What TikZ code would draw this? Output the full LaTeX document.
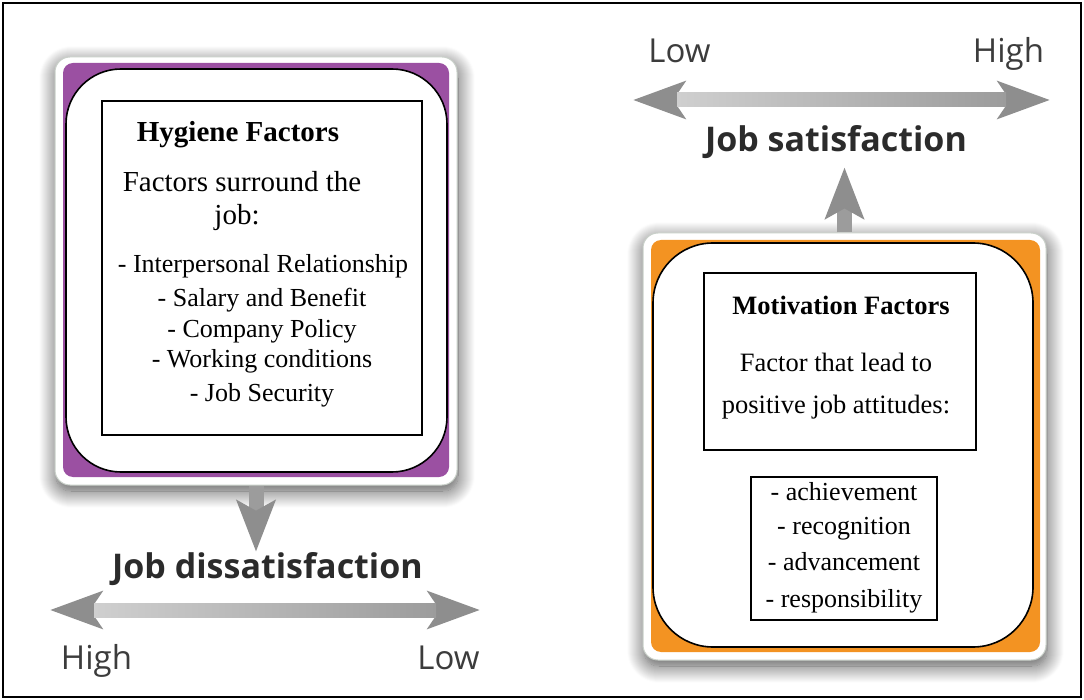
\documentclass[tikz,border=0pt]{standalone}
\usepackage{fontspec}
\setmainfont{Liberation Serif}
\newfontfamily\labelfont{Open Sans}
\usetikzlibrary{arrows.meta,shadows.blur,calc}

\definecolor{hygpurple}{HTML}{9B50A2}
\definecolor{motorange}{HTML}{F39322}
\definecolor{arrowgray}{HTML}{8E8E8E}
\definecolor{shaftlight}{HTML}{CFCFCF}
\definecolor{shaftdark}{HTML}{9C9C9C}
\definecolor{frameedge}{HTML}{C9D0C9}
\definecolor{labelink}{HTML}{2B2B2B}
\definecolor{endink}{HTML}{3C3C3C}

\tikzset{
  panelframe/.style={draw=frameedge, line width=1pt, fill=white, rounded corners=15pt,
    blur shadow={shadow blur steps=18, shadow xshift=1pt, shadow yshift=-6pt,
      shadow blur radius=17pt, shadow opacity=70}},
  colorband/.style={rounded corners=10pt, inner sep=0pt},
  roundbox/.style={draw=black, line width=1.6pt, fill=white, inner sep=0pt},
  textbox/.style={draw=black, line width=1.2pt, fill=white, inner sep=0pt},
  headtext/.style={anchor=base, inner sep=0pt, font=\fontsize{29}{34}\selectfont},
  bodytext/.style={anchor=base, inner sep=0pt, font=\fontsize{26}{30}\selectfont},
  scaletitle/.style={anchor=base, inner sep=0pt, font=\labelfont\bfseries\fontsize{34}{40}\selectfont, text=labelink},
  scaleend/.style={anchor=base, inner sep=0pt, font=\labelfont\fontsize{33}{38}\selectfont, text=endink},
  twoway/.style={line width=14pt, draw=arrowgray,
    arrows={Stealth[length=52pt, width=37pt, inset=12pt]-Stealth[length=52pt, width=37pt, inset=12pt]}},
  oneway/.style={line width=15pt, draw=shaftdark,
    arrows={-Stealth[length=51pt, width=38pt, inset=10pt, color=arrowgray]}},
}

\begin{document}
\begin{tikzpicture}[x=1pt, y=-1pt]
\useasboundingbox (0,0) rectangle (1084,700);
\node[draw=black, line width=1.4pt, minimum width=1078pt, minimum height=694pt, inner sep=0pt]
  (border) at (542,350) {};

% ---- hygiene panel ----
\node[panelframe, minimum width=402pt, minimum height=428pt, inner sep=0pt] (hygframe) at (256,271) {};
\node[colorband, fill=hygpurple, minimum width=386pt, minimum height=414pt] (hygband) at (256,270) {};
\node[roundbox, rounded corners=55pt, minimum width=381pt, minimum height=403pt] (hyground) at (256.5,270.5) {};
\node[textbox, minimum width=320pt, minimum height=334pt] (hygbox) at (262,268) {};

\node[headtext, font=\fontsize{29}{34}\selectfont\bfseries] (hygtitle) at (238,142) {Hygiene Factors};
\node[headtext] (hygline1) at (242,192) {Factors surround the};
\node[headtext] (hygline2) at (237,225) {job:};
\node[bodytext] (hyg1) at (263,273) {- Interpersonal Relationship};
\node[bodytext] (hyg2) at (262,307) {- Salary and Benefit};
\node[bodytext] (hyg3) at (262,338) {- Company Policy};
\node[bodytext] (hyg4) at (262,367) {- Working conditions};
\node[bodytext] (hyg5) at (262,401) {- Job Security};

% ---- motivation panel ----
\node[panelframe, minimum width=403pt, minimum height=427pt, inner sep=0pt] (motframe) at (844.5,446.5) {};
\node[colorband, fill=motorange, minimum width=389pt, minimum height=412pt] (motband) at (845.5,446) {};
\node[roundbox, rounded corners=60pt, minimum width=380pt, minimum height=404pt] (motround) at (843,445) {};
\node[textbox, minimum width=272pt, minimum height=177pt] (motbox) at (840,361.5) {};
\node[textbox, minimum width=186pt, minimum height=143pt] (motlist) at (844,548.5) {};

\node[bodytext, font=\fontsize{26.5}{30}\selectfont\bfseries] (mottitle) at (841,315) {Motivation Factors};
\node[bodytext, font=\fontsize{26.5}{30}\selectfont] (motline1) at (836,372) {Factor that lead to};
\node[bodytext, font=\fontsize{26.5}{30}\selectfont] (motline2) at (836,413) {positive job attitudes:};
\node[bodytext] (mot1) at (844,500) {- achievement};
\node[bodytext] (mot2) at (844,534) {- recognition};
\node[bodytext] (mot3) at (844,570) {- advancement};
\node[bodytext] (mot4) at (844,607) {- responsibility};

% ---- satisfaction scale ----
\node[scaletitle] (sat) at (836,152) {Job satisfaction};
\node[scaleend] (satlow) at (679.5,63) {Low};
\node[scaleend] (sathigh) at (1008.5,63) {High};
\coordinate (satL) at (633,100);
\coordinate (satR) at (1050,100);
\draw[twoway] (satL) -- (satR);
\shade[left color=shaftlight, right color=shaftdark] ($(satL)+(44,-7)$) rectangle ($(satR)+(-44,7)$);
\draw[oneway] (motframe.north) -- ($(motframe.north |- sat.south)+(0,8)$);

% ---- dissatisfaction scale ----
\node[scaletitle] (dissat) at (267.5,578) {Job dissatisfaction};
\node[scaleend] (dishigh) at (96.5,669) {High};
\node[scaleend] (dislow) at (448.5,669) {Low};
\coordinate (disL) at (50,610);
\coordinate (disR) at (480,610);
\draw[twoway] (disL) -- (disR);
\shade[left color=shaftlight, right color=shaftdark] ($(disL)+(44,-7)$) rectangle ($(disR)+(-44,7)$);
\draw[oneway] (hygframe.south) -- (hygframe.south |- dissat.north);
\end{tikzpicture}
\end{document}
